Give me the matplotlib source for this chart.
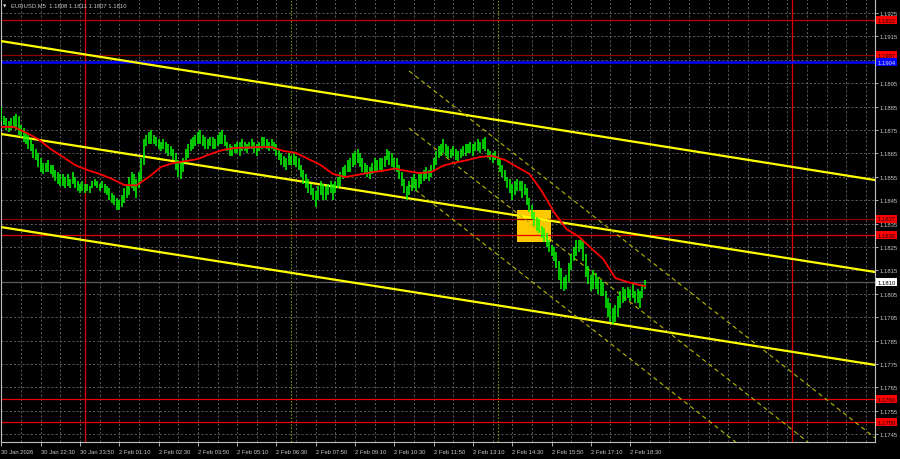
import matplotlib
matplotlib.use("Agg")
import matplotlib.pyplot as plt
import matplotlib.transforms as mtransforms
import numpy as np

# ----------------------------------------------------------------------
#   EURUSD M5 bars, bar index 0 = 30 Jan 21:10, last bar = 2 Feb 19:00
# ----------------------------------------------------------------------
highs = [
    1.1885, 1.1881, 1.1880, 1.1879, 1.1880, 1.1881, 1.1882, 1.1881, 1.1877, 1.1876,
    1.1874, 1.1873, 1.1871, 1.1869, 1.1867, 1.1865, 1.1863, 1.1861, 1.1861, 1.1862,
    1.1860, 1.1860, 1.1858, 1.1857, 1.1856, 1.1856, 1.1855, 1.1856, 1.1854, 1.1857,
    1.1855, 1.1853, 1.1852, 1.1853, 1.1852, 1.1852, 1.1851, 1.1853, 1.1854, 1.1853,
    1.1852, 1.1853, 1.1852, 1.1851, 1.1850, 1.1848, 1.1847, 1.1846, 1.1845, 1.1847,
    1.1850, 1.1851, 1.1855, 1.1857, 1.1856, 1.1854, 1.1857, 1.1863, 1.1871, 1.1873,
    1.1874, 1.1875, 1.1873, 1.1872, 1.1871, 1.1870, 1.1871, 1.1870, 1.1869, 1.1868,
    1.1867, 1.1865, 1.1862, 1.1861, 1.1863, 1.1867, 1.1869, 1.1871, 1.1872, 1.1873,
    1.1874, 1.1875, 1.1873, 1.1872, 1.1871, 1.1872, 1.1872, 1.1871, 1.1873, 1.1874,
    1.1875, 1.1873, 1.1870, 1.1869, 1.1868, 1.1869, 1.1870, 1.1870, 1.1871, 1.1870,
    1.1869, 1.1870, 1.1871, 1.1870, 1.1869, 1.1870, 1.1872, 1.1872, 1.1871, 1.1870,
    1.1871, 1.1870, 1.1869, 1.1867, 1.1865, 1.1864, 1.1863, 1.1865, 1.1864, 1.1865,
    1.1864, 1.1863, 1.1860, 1.1858, 1.1856, 1.1854, 1.1852, 1.1850, 1.1849, 1.1851,
    1.1853, 1.1852, 1.1851, 1.1852, 1.1853, 1.1852, 1.1853, 1.1855, 1.1857, 1.1859,
    1.1860, 1.1862, 1.1863, 1.1865, 1.1866, 1.1867, 1.1865, 1.1863, 1.1861, 1.1860,
    1.1859, 1.1861, 1.1863, 1.1862, 1.1863, 1.1863, 1.1864, 1.1867, 1.1866, 1.1865,
    1.1863, 1.1863, 1.1860, 1.1857, 1.1854, 1.1851, 1.1853, 1.1855, 1.1856, 1.1854,
    1.1856, 1.1857, 1.1858, 1.1859, 1.1858, 1.1860, 1.1863, 1.1866, 1.1868, 1.1869,
    1.1871, 1.1869, 1.1868, 1.1867, 1.1868, 1.1867, 1.1866, 1.1867, 1.1868, 1.1869,
    1.1869, 1.1870, 1.1869, 1.1870, 1.1871, 1.1870, 1.1871, 1.1872, 1.1867, 1.1866,
    1.1865, 1.1866, 1.1864, 1.1863, 1.1860, 1.1858, 1.1855, 1.1854, 1.1852, 1.1853,
    1.1854, 1.1853, 1.1853, 1.1852, 1.1850, 1.1846, 1.1843, 1.1840, 1.1838, 1.1837,
    1.1834, 1.1833, 1.1831, 1.1828, 1.1826, 1.1825, 1.1823, 1.1819, 1.1816, 1.1812,
    1.1813, 1.1818, 1.1822, 1.1825, 1.1828, 1.1828, 1.1829, 1.1828, 1.1822, 1.1817,
    1.1813, 1.1815, 1.1814, 1.1812, 1.1811, 1.1810, 1.1806, 1.1803, 1.1801, 1.1799,
    1.1800, 1.1804, 1.1806, 1.1808, 1.1807, 1.1808, 1.1807, 1.1809, 1.1806, 1.1807,
    1.1806, 1.1809, 1.1811,
]

lows = [
    1.1879, 1.1877, 1.1875, 1.1874, 1.1875, 1.1876, 1.1875, 1.1873, 1.1872, 1.1870,
    1.1869, 1.1867, 1.1866, 1.1863, 1.1862, 1.1859, 1.1857, 1.1856, 1.1857, 1.1857,
    1.1856, 1.1855, 1.1853, 1.1852, 1.1851, 1.1851, 1.1850, 1.1851, 1.1850, 1.1852,
    1.1850, 1.1849, 1.1848, 1.1849, 1.1848, 1.1849, 1.1848, 1.1850, 1.1851, 1.1850,
    1.1849, 1.1850, 1.1848, 1.1847, 1.1845, 1.1844, 1.1843, 1.1841, 1.1841, 1.1842,
    1.1844, 1.1846, 1.1847, 1.1850, 1.1849, 1.1846, 1.1850, 1.1853, 1.1860, 1.1868,
    1.1869, 1.1869, 1.1869, 1.1868, 1.1867, 1.1866, 1.1867, 1.1865, 1.1864, 1.1864,
    1.1862, 1.1858, 1.1855, 1.1854, 1.1857, 1.1861, 1.1863, 1.1866, 1.1867, 1.1868,
    1.1869, 1.1869, 1.1868, 1.1867, 1.1867, 1.1868, 1.1867, 1.1867, 1.1868, 1.1869,
    1.1869, 1.1868, 1.1866, 1.1864, 1.1864, 1.1865, 1.1865, 1.1864, 1.1866, 1.1866,
    1.1865, 1.1867, 1.1867, 1.1865, 1.1864, 1.1866, 1.1867, 1.1868, 1.1867, 1.1866,
    1.1867, 1.1866, 1.1864, 1.1862, 1.1860, 1.1859, 1.1858, 1.1860, 1.1860, 1.1860,
    1.1859, 1.1858, 1.1855, 1.1852, 1.1850, 1.1848, 1.1847, 1.1845, 1.1842, 1.1845,
    1.1847, 1.1845, 1.1845, 1.1847, 1.1848, 1.1845, 1.1848, 1.1850, 1.1851, 1.1854,
    1.1855, 1.1857, 1.1857, 1.1859, 1.1860, 1.1861, 1.1859, 1.1857, 1.1856, 1.1855,
    1.1854, 1.1856, 1.1857, 1.1857, 1.1858, 1.1857, 1.1859, 1.1862, 1.1860, 1.1859,
    1.1858, 1.1857, 1.1854, 1.1851, 1.1848, 1.1845, 1.1847, 1.1849, 1.1850, 1.1849,
    1.1850, 1.1852, 1.1853, 1.1854, 1.1853, 1.1855, 1.1858, 1.1860, 1.1863, 1.1864,
    1.1865, 1.1864, 1.1863, 1.1863, 1.1864, 1.1862, 1.1861, 1.1863, 1.1864, 1.1864,
    1.1865, 1.1865, 1.1864, 1.1866, 1.1866, 1.1865, 1.1867, 1.1866, 1.1863, 1.1862,
    1.1861, 1.1862, 1.1860, 1.1857, 1.1855, 1.1853, 1.1850, 1.1848, 1.1845, 1.1847,
    1.1849, 1.1849, 1.1846, 1.1847, 1.1843, 1.1840, 1.1837, 1.1834, 1.1832, 1.1831,
    1.1829, 1.1827, 1.1825, 1.1823, 1.1821, 1.1819, 1.1816, 1.1811, 1.1807, 1.1806,
    1.1807, 1.1810, 1.1815, 1.1819, 1.1821, 1.1823, 1.1824, 1.1819, 1.1812, 1.1809,
    1.1806, 1.1807, 1.1807, 1.1805, 1.1804, 1.1804, 1.1799, 1.1795, 1.1793, 1.1792,
    1.1793, 1.1795, 1.1799, 1.1801, 1.1802, 1.1803, 1.1802, 1.1803, 1.1801, 1.1801,
    1.1799, 1.1803, 1.1807,
]

# moving average (red line), read every 5 bars
ma_bars = [0, 5, 10, 15, 20, 25, 30, 35, 40, 45, 50, 55, 60, 65, 70, 75, 80, 85, 90,
           95, 100, 105, 110, 115, 120, 125, 130, 135, 140, 145, 150, 155, 160, 165,
           170, 175, 180, 185, 190, 195, 200, 205, 210, 215, 220, 225, 230, 235, 240,
           245, 250, 255, 260, 262]
ma_values = [1.18763, 1.18763, 1.18739, 1.18711, 1.18669, 1.18635, 1.18600, 1.18579,
             1.18562, 1.18541, 1.18515, 1.18513, 1.18549, 1.18592, 1.18609, 1.18617,
             1.18626, 1.18647, 1.18664, 1.18673, 1.18675, 1.18677, 1.18677, 1.18660,
             1.18652, 1.18626, 1.18600, 1.18562, 1.18549, 1.18558, 1.18568, 1.18575,
             1.18585, 1.18575, 1.18566, 1.18570, 1.18598, 1.18611, 1.18622, 1.18635,
             1.18639, 1.18622, 1.18592, 1.18562, 1.18489, 1.18399, 1.18327, 1.18295,
             1.18246, 1.18199, 1.18117, 1.18100, 1.18087, 1.18083]

time_labels = ["30 Jan 2026", "30 Jan 22:30", "30 Jan 23:50", "2 Feb 01:10",
               "2 Feb 02:30", "2 Feb 03:50", "2 Feb 05:10", "2 Feb 06:30",
               "2 Feb 07:50", "2 Feb 09:10", "2 Feb 10:30", "2 Feb 11:50",
               "2 Feb 13:10", "2 Feb 14:30", "2 Feb 15:50", "2 Feb 17:10",
               "2 Feb 18:30"]

header = "EURUSD,M5  1.1808 1.1811 1.1807 1.1810"

# horizontal levels
red_levels = [1.1922, 1.1907, 1.1837, 1.1830, 1.1760, 1.1750]
blue_level = 1.1904
last_price = 1.1810

# yellow trend channel, price at left edge and right edge
channel_left = [1.19130, 1.18733, 1.18335]
channel_right = [1.18536, 1.18143, 1.17746]

# dashed channel, from bar 166 to bar 356
dash_bars = [166, 356]
dash_start = [1.19002, 1.18758, 1.18515]
dash_end = [1.17432, 1.17188, 1.16945]

day_separators = [34, 322]
session_marks = [118, 202]

# signal box
box_bars = [209.8, 223.8]
box_prices = [1.18271, 1.18408]

# ----------------------------------------------------------------------
FONT = ["Liberation Sans", "DejaVu Sans"]
TXT = "#c8c8c8"
FS = 4.2

x_min, x_max = -0.163, 355.7
y_min, y_max = 1.174164, 1.193098

fig = plt.figure(figsize=(9, 4.6), dpi=100, facecolor="black")
ax = fig.add_axes([1 / 900, 17 / 460, 874 / 900, 443 / 460])
ax.set_facecolor("black")
ax.set_xlim(x_min, x_max)
ax.set_ylim(y_min, y_max)

for side in ["left", "bottom", "right"]:
    ax.spines[side].set_color("#c0c0c0")
    ax.spines[side].set_linewidth(0.8)
ax.spines["top"].set_visible(False)

# price axis on the right
ax.yaxis.tick_right()
yticks = np.arange(1.1745, 1.19255, 0.001)
ax.set_yticks(yticks)
ax.set_yticklabels(["%.4f" % v for v in yticks], family=FONT, fontsize=FS, color=TXT)
ax.tick_params(axis="y", length=2, pad=1.5, colors=TXT, width=0.6)

# time axis
ax.set_xticks(range(0, 16 * len(time_labels), 16))
ax.set_xticklabels(time_labels, family=FONT, fontsize=FS, color=TXT, ha="left")
ax.set_xticks(range(8, 356, 8), minor=True)
ax.tick_params(axis="x", which="major", length=3, pad=2, colors=TXT, width=0.6)
ax.tick_params(axis="x", which="minor", length=0)

ax.grid(True, which="both", color="#6a6a6a", linestyle=(0, (2.5, 2.5)), linewidth=0.6)
ax.set_axisbelow(True)

# signal box
ax.fill_between(box_bars, box_prices[0], box_prices[1], color="#ffc800", lw=0, zorder=1.5)

# vertical markers
for b in day_separators:
    ax.axvline(b, color="#e00000", lw=0.9, zorder=2)
for b in session_marks:
    ax.axvline(b, color="#6f9a10", lw=0.8, linestyle=(0, (1.5, 1.5)), zorder=2)

# horizontal levels
red_colors = ["#c00000", "#8c0000", "#8c0000", "#e80000", "#e80000", "#e80000"]
for lvl, c in zip(red_levels, red_colors):
    ax.axhline(lvl, color=c, lw=0.9, zorder=2)
ax.axhline(blue_level, color="#0000ff", lw=1.8, zorder=2)
ax.axhline(last_price, color="#5a5a5a", lw=0.9, zorder=2)

# yellow channel
for left, right in zip(channel_left, channel_right):
    ax.plot([x_min, x_max], [left, right], color="#ffff00", lw=1.6, zorder=3)
for start, end in zip(dash_start, dash_end):
    ax.plot(dash_bars, [start, end], color="#b8b800", lw=0.8,
            linestyle=(0, (4, 3)), zorder=3)

# price bars
bar_idx = np.arange(len(highs))
ax.vlines(bar_idx, lows, highs, colors="#00ff00", lw=1.1, zorder=4)

# moving average
ax.plot(ma_bars, ma_values, color="#ff0000", lw=1.3, zorder=5)

# price tags on the right axis
tag_tr = mtransforms.blended_transform_factory(ax.transAxes, ax.transData)


def price_tag(price, bg, fg):
    ax.text(1.003, price, "%.4f" % price, transform=tag_tr, ha="left", va="center",
            family=FONT, fontsize=FS, color=fg, clip_on=False, zorder=10,
            bbox=dict(boxstyle="square,pad=0.25", fc=bg, ec="none"))


for lvl in red_levels:
    price_tag(lvl, "#ff0000", "#200000")
price_tag(blue_level, "#0000ff", "#e0e0e0")
price_tag(last_price, "#ffffff", "#000000")

# header
fig.text(3 / 900, 1 - 6 / 460, "\u25bc", family="DejaVu Sans", fontsize=3.2,
         color="#e0e0e0", va="center", ha="left")
fig.text(11 / 900, 1 - 6 / 460, header, family=FONT, fontsize=FS, color=TXT,
         va="center", ha="left")

fig.savefig("out.png", dpi=100, facecolor="black")
